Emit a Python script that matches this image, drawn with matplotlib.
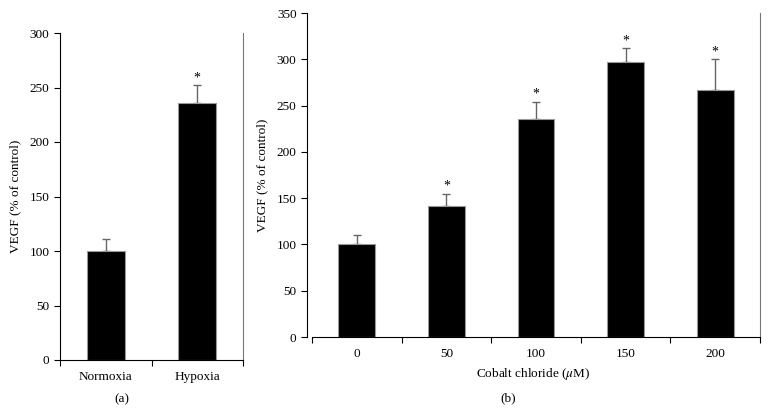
import matplotlib
matplotlib.use("Agg")
import matplotlib.pyplot as plt

plt.rcParams["font.family"] = ["Liberation Serif", "DejaVu Serif"]
plt.rcParams["font.size"] = 9.5
plt.rcParams["mathtext.fontset"] = "stix"

# ---------- data ----------
cond_labels = ["Normoxia", "Hypoxia"]
cond_vegf = [100, 236]
cond_err = [11, 16]
cond_sig = [False, True]

cobalt_labels = ["0", "50", "100", "150", "200"]
cobalt_vegf = [100, 141, 236, 297, 267]
cobalt_err = [10, 14, 18, 15, 33]
cobalt_sig = [False, True, True, True, True]

W, H = 768, 413
fig = plt.figure(figsize=(W / 100, H / 100), dpi=100)


def panel(ax, labels, vals, errs, sig, ymax, xpad=0.0):
    x = list(range(len(labels)))
    ax.bar(x, vals, width=0.41, color="black", edgecolor="#999999", linewidth=0.8, zorder=2)
    ax.errorbar(x, vals, yerr=[[0] * len(vals), errs], fmt="none", ecolor="#666666",
                elinewidth=1.0, capsize=3, capthick=1.0, zorder=1)
    for xi, v, e, s in zip(x, vals, errs, sig):
        if s:
            ax.text(xi, v + e + ymax * 0.003, "*", ha="center", va="bottom", fontsize=10)
    ax.set_xlim(-0.5 - xpad, len(labels) - 0.5)
    ax.set_ylim(0, ymax)
    ax.set_xticks(x)
    ax.set_xticklabels(labels)
    ax.set_xticks([i - 0.5 for i in range(len(labels) + 1)], minor=True)
    ax.tick_params(axis="x", which="major", length=0, pad=8)
    ax.tick_params(axis="x", which="minor", length=4, direction="out", width=0.8)
    ax.tick_params(axis="y", length=4, direction="out", width=0.8)
    ax.spines["top"].set_visible(False)
    ax.spines["right"].set_color("#777777")
    ax.spines["bottom"].set_bounds(-0.5, len(labels) - 0.5)
    ax.set_ylabel("VEGF (% of control)", labelpad=6)


ax1 = fig.add_axes([60 / W, 1 - 360 / H, (243 - 60) / W, (360 - 33) / H])
panel(ax1, cond_labels, cond_vegf, cond_err, cond_sig, 300)
ax1.set_yticks(range(0, 301, 50))

ax2 = fig.add_axes([307 / W, 1 - 337 / H, (760 - 307) / W, (337 - 13) / H])
panel(ax2, cobalt_labels, cobalt_vegf, cobalt_err, cobalt_sig, 350, xpad=0.055)
ax2.set_yticks(range(0, 351, 50))
ax2.set_xlabel(r"Cobalt chloride ($\mu$M)", labelpad=4)

fig.text(122 / W, 1 - 399 / H, "(a)", ha="center", va="center")
fig.text(508 / W, 1 - 398 / H, "(b)", ha="center", va="center")

fig.savefig("out.png", dpi=100)
